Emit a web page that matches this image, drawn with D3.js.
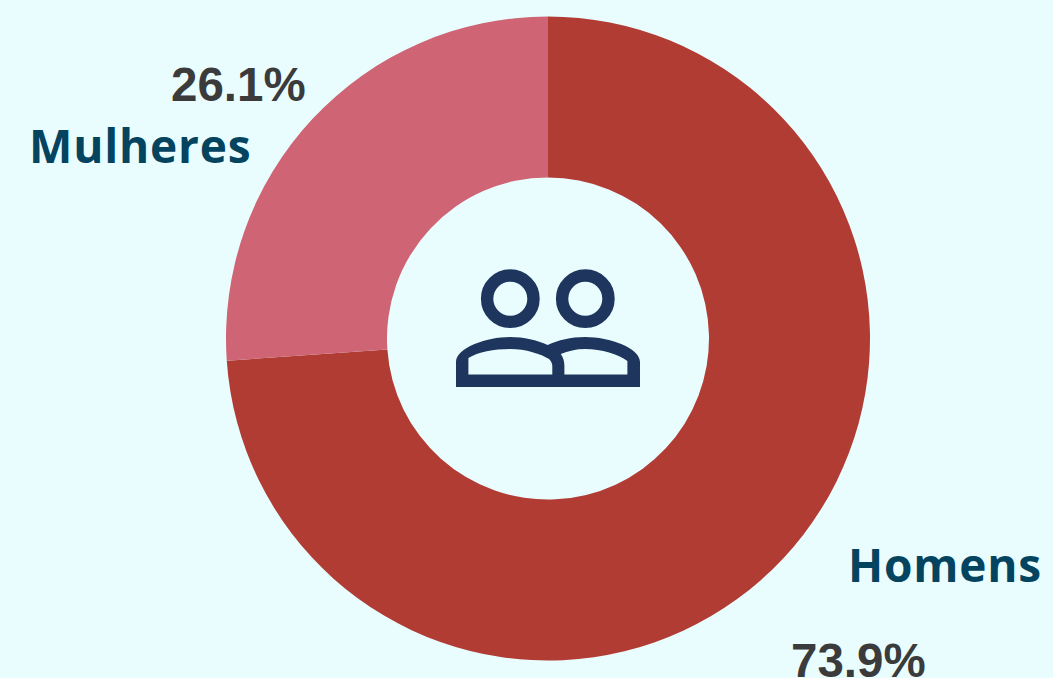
<!DOCTYPE html>
<html><head><meta charset="utf-8">
<script src="https://cdnjs.cloudflare.com/ajax/libs/d3/7.8.5/d3.min.js"></script>
<style>html,body{margin:0;padding:0;background:#e9fdff;overflow:hidden}svg{display:block}</style>
</head><body><svg id="c" width="1053" height="678"></svg>
<script>
const categories = ["Homens", "Mulheres"];
const values = [73.9, 26.1];
const valueLabels = ["73.9%", "26.1%"];
const colors = ["#b13c34", "#cf6474"];

const svg = d3.select("#c");
const g = svg.append("g").attr("transform", "translate(548,338.5)");
const pie = d3.pie().sort(null).value(d => d);
const arc = d3.arc().innerRadius(161).outerRadius(322);
g.selectAll("path").data(pie(values)).join("path")
  .attr("d", arc).attr("fill", (d, i) => colors[i]);

const nameAt = [[848, 582], [29, 163]];
const pctAt = [[791, 677], [171, 100.5]];
svg.selectAll("text.name").data(categories).join("text").attr("class", "name")
  .attr("x", (d, i) => nameAt[i][0]).attr("y", (d, i) => nameAt[i][1])
  .attr("font-family", "Open Sans").attr("font-weight", 700).attr("font-size", 46)
  .attr("letter-spacing", 0.8)
  .attr("fill", "#04445f").text(d => d);
svg.selectAll("text.pct").data(valueLabels).join("text").attr("class", "pct")
  .attr("x", (d, i) => pctAt[i][0]).attr("y", (d, i) => pctAt[i][1])
  .attr("font-family", "Liberation Sans").attr("font-weight", 700).attr("font-size", 47.5)
  .attr("fill", "#3b3b3b").text(d => d);

const icon = svg.append("g").attr("fill", "#1e365e");
[[510.3, 298.7], [585.3, 298.7]].forEach(c => icon.append("circle")
  .attr("cx", c[0]).attr("cy", c[1]).attr("r", 23.2)
  .attr("fill", "none").attr("stroke", "#1e365e").attr("stroke-width", 12.4));
icon.append("path").attr("fill-rule", "evenodd").attr("d",
 "M456 387V362C456 348 486 337 510 337C524 337 537 340 547.7 345C558 340 571 337 585 337C610 337 640 348 640 362V387Z" +
 "M468.4 374.6V358C478 352 494 349 510 349C526 349 541 354 549 359C551 361 552.3 363 552.3 366V374.6Z" +
 "M564.4 374.6V366C564.4 361 563 357 560.8 354C568 351 576 349 585 349C602 349 618 354 627.4 361V374.6Z");
</script></body></html>
